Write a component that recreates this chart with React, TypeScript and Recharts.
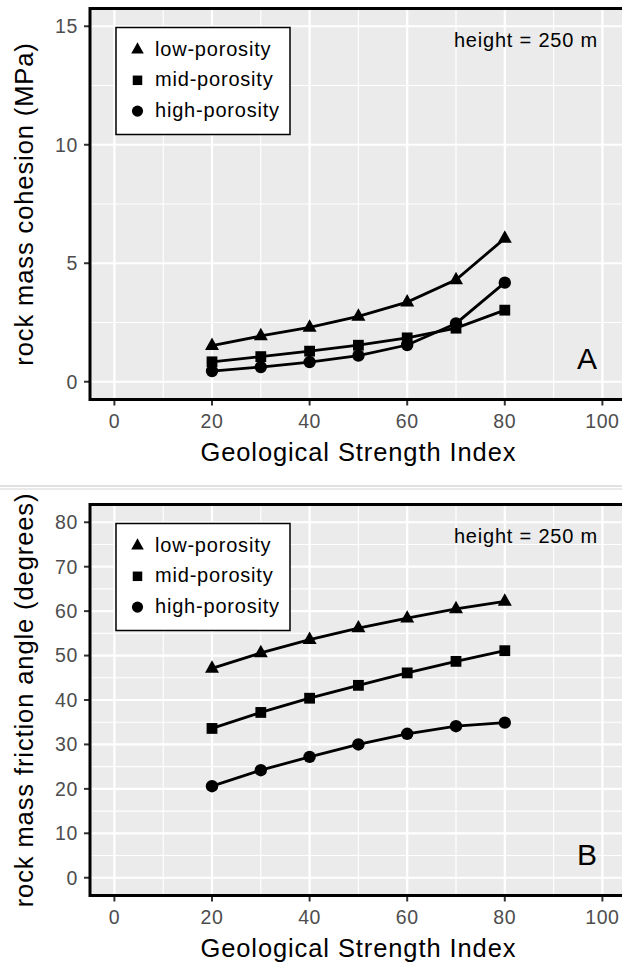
import React from 'react';
import { LineChart, Line, XAxis, YAxis, CartesianGrid, ReferenceLine } from 'recharts';

// GSI values shared by both panels
const gsi = [20, 30, 40, 50, 60, 70, 80];

// panel A: rock mass cohesion (MPa)
const cohesionLow = [1.52, 1.93, 2.29, 2.76, 3.36, 4.3, 6.05];
const cohesionMid = [0.84, 1.06, 1.29, 1.54, 1.85, 2.26, 3.02];
const cohesionHigh = [0.45, 0.62, 0.83, 1.1, 1.55, 2.46, 4.18];

// panel B: rock mass friction angle (degrees)
const frictionLow = [47.1, 50.6, 53.6, 56.2, 58.4, 60.5, 62.2];
const frictionMid = [33.6, 37.2, 40.4, 43.3, 46.1, 48.7, 51.1];
const frictionHigh = [20.6, 24.2, 27.2, 30.0, 32.4, 34.1, 34.9];

const xTicks = [0, 20, 40, 60, 80, 100];
const xMinor = [10, 30, 50, 70, 90];
const cohesionTicks = [0, 5, 10, 15];
const cohesionMinor = [2.5, 7.5, 12.5];
const frictionTicks = [0, 10, 20, 30, 40, 50, 60, 70, 80];
const frictionMinor = [5, 15, 25, 35, 45, 55, 65, 75];

const seriesNames = ['low-porosity', 'mid-porosity', 'high-porosity'];

const FONT = '"Liberation Sans", Arial, Helvetica, sans-serif';
const CHART_W = 640;
const PLOT_LEFT = 90;
const PLOT_W = 536.8;
const PLOT_H = 391;
const PLOT_TOP = 8.5;

const triangle = (cx: number, cy: number, s: number) =>
  `M${cx},${cy - s * 0.58}L${cx - s / 2},${cy + s * 0.31}L${cx + s / 2},${cy + s * 0.31}Z`;

const Marker = ({ kind, cx, cy, small }: { kind: number; cx: number; cy: number; small?: boolean }) => {
  if (kind === 0) return <path d={triangle(cx, cy, small ? 12.5 : 14)} fill="#000" />;
  if (kind === 1) {
    const s = small ? 9.5 : 10.8;
    return <rect x={cx - s / 2} y={cy - s / 2} width={s} height={s} fill="#000" />;
  }
  return <circle cx={cx} cy={cy} r={small ? 5.6 : 6.2} fill="#000" />;
};

const dotFor = (kind: number) => (p: any) => {
  if (p.cx == null || p.cy == null) return <g key={`d${kind}-${p.index}`} />;
  return (
    <g key={`d${kind}-${p.index}`}>
      <Marker kind={kind} cx={p.cx} cy={p.cy} />
    </g>
  );
};

interface PanelProps {
  top: number;
  height: number;
  yDomain: [number, number];
  yTicks: number[];
  yMinor: number[];
  low: number[];
  mid: number[];
  high: number[];
}

const Panel: React.FC<PanelProps> = ({ top, height, yDomain, yTicks, yMinor, low, mid, high }) => {
  const rows = gsi.map((g, i) => ({ gsi: g, low: low[i], mid: mid[i], high: high[i] }));
  const tickStyle = { fill: '#4D4D4D', fontSize: 19.5, fontFamily: FONT, letterSpacing: 0.6 };
  return (
    <div style={{ position: 'absolute', left: 0, top, width: CHART_W, height }}>
      <LineChart
        width={CHART_W}
        height={height}
        data={rows}
        margin={{ top: PLOT_TOP, right: CHART_W - PLOT_LEFT - PLOT_W, bottom: height - PLOT_TOP - PLOT_H - 40, left: 0 }}
      >
        <CartesianGrid fill="#EBEBEB" stroke="#FFFFFF" strokeWidth={2.2} />
        {xMinor.map((v) => (
          <ReferenceLine key={`xm${v}`} x={v} stroke="#FFFFFF" strokeWidth={1.1} />
        ))}
        {yMinor.map((v) => (
          <ReferenceLine key={`ym${v}`} y={v} stroke="#FFFFFF" strokeWidth={1.1} />
        ))}
        <XAxis
          type="number"
          dataKey="gsi"
          domain={[-5, 105]}
          ticks={xTicks}
          interval={0}
          allowDataOverflow
          axisLine={false}
          tickLine={{ stroke: '#333333', strokeWidth: 2 }}
          tickSize={6}
          tickMargin={9}
          height={40}
          tick={tickStyle}
        />
        <YAxis
          type="number"
          domain={yDomain}
          ticks={yTicks}
          interval={0}
          allowDataOverflow
          axisLine={false}
          tickLine={{ stroke: '#333333', strokeWidth: 2 }}
          tickSize={6}
          tickMargin={6}
          width={PLOT_LEFT}
          tick={tickStyle}
        />
        <Line dataKey="low" stroke="#000" strokeWidth={2.8} dot={dotFor(0)} activeDot={false} isAnimationActive={false} />
        <Line dataKey="mid" stroke="#000" strokeWidth={2.8} dot={dotFor(1)} activeDot={false} isAnimationActive={false} />
        <Line dataKey="high" stroke="#000" strokeWidth={2.8} dot={dotFor(2)} activeDot={false} isAnimationActive={false} />
      </LineChart>
    </div>
  );
};

const Decorations = ({ offset, yLabel, tag }: { offset: number; yLabel: string; tag: string }) => (
  <g transform={`translate(0,${offset})`} fontFamily={FONT}>
    <rect x={PLOT_LEFT} y={PLOT_TOP} width={PLOT_W + 10} height={PLOT_H} fill="none" stroke="#000" strokeWidth={3} />
    <text
      transform={`translate(33,${PLOT_TOP + PLOT_H / 2}) rotate(-90)`}
      textAnchor="middle"
      fontSize={25.5}
      letterSpacing={0.9}
      fill="#000"
    >
      {yLabel}
    </text>
    <text x={PLOT_LEFT + PLOT_W / 2} y={461} textAnchor="middle" fontSize={25.5} letterSpacing={0.9} fill="#000">
      Geological Strength Index
    </text>
    <text x={598} y={46.5} textAnchor="end" fontSize={20} letterSpacing={0.8} fill="#000">
      height = 250 m
    </text>
    <text x={597} y={369} textAnchor="end" fontSize={30} fill="#000">
      {tag}
    </text>
    <rect x={116} y={27.5} width={174} height={107} fill="#FFFFFF" stroke="#000" strokeWidth={1.5} />
    {seriesNames.map((name, i) => (
      <g key={name}>
        <Marker kind={i} cx={137.5} cy={49.5 + i * 30.8} small />
        <text x={155} y={49.5 + i * 30.8 + 6} fontSize={20} letterSpacing={0.8} fill="#000">
          {name}
        </text>
      </g>
    ))}
  </g>
);

export default function App() {
  return (
    <div style={{ position: 'absolute', left: 0, top: 0, width: 622, height: 965, overflow: 'hidden', background: '#fff' }}>
      <Panel
        top={0}
        height={485}
        yDomain={[-0.75, 15.75]}
        yTicks={cohesionTicks}
        yMinor={cohesionMinor}
        low={cohesionLow}
        mid={cohesionMid}
        high={cohesionHigh}
      />
      <Panel
        top={496}
        height={469}
        yDomain={[-4, 84]}
        yTicks={frictionTicks}
        yMinor={frictionMinor}
        low={frictionLow}
        mid={frictionMid}
        high={frictionHigh}
      />
      <svg width={622} height={965} style={{ position: 'absolute', left: 0, top: 0, pointerEvents: 'none' }}>
        <line x1={0} x2={622} y1={486} y2={486} stroke="#C4C4C4" strokeWidth={1.2} />
        <line x1={0} x2={622} y1={489} y2={489} stroke="#D6D6D6" strokeWidth={1.2} />
        <Decorations offset={0} yLabel="rock mass cohesion (MPa)" tag="A" />
        <Decorations offset={496} yLabel="rock mass friction angle (degrees)" tag="B" />
      </svg>
    </div>
  );
}
